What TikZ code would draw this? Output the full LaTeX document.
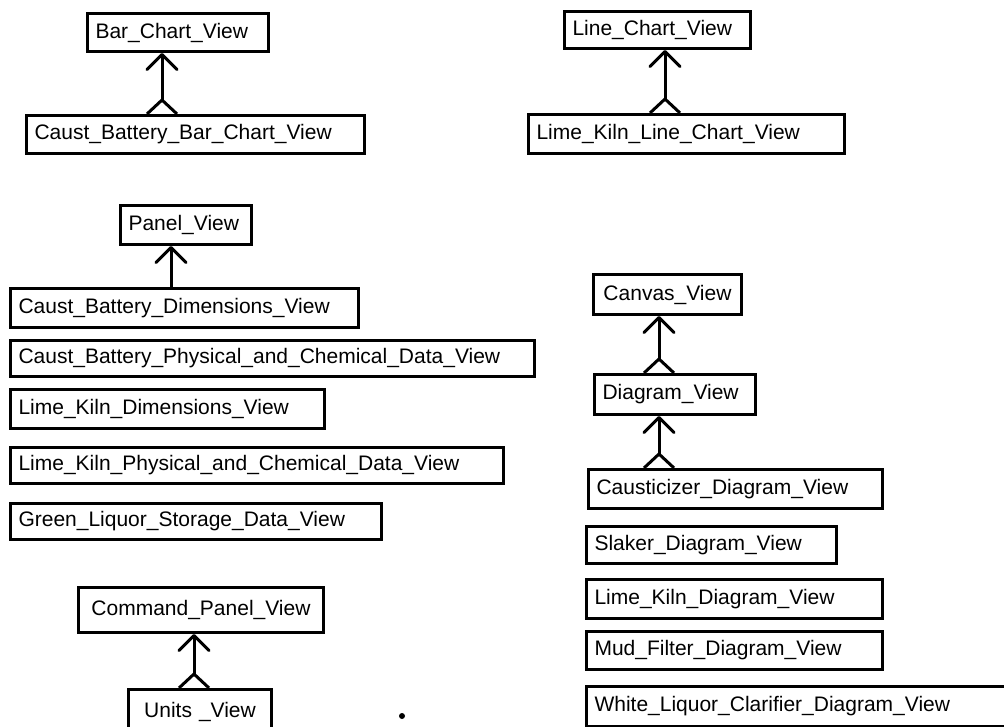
\documentclass[tikz,border=0pt]{standalone}
\usepackage{fontspec}
\setmainfont{Liberation Sans}
\usetikzlibrary{arrows.meta,calc}
\begin{document}
\begin{tikzpicture}[x=1pt,y=-1pt,
  view/.style={draw, line width=3pt, anchor=north west, inner xsep=8pt,
    inner ysep=0pt, align=left, font=\fontsize{21}{24}\selectfont},
  cview/.style={view, align=center},
  inherit/.style={line width=3pt, line cap=round,
    -{Straight Barb[length=15pt,width=30pt,round]}},
  tailtri/.style={line width=3pt, line join=miter},
]
\useasboundingbox (0,0) rectangle (1004,727);

% chart views
\node[view, text width=165pt, minimum height=38pt] (bar) at (86,12) {Bar\_Chart\_View};
\node[view, text width=322pt, minimum height=38pt] (cbbar) at (25,114) {Caust\_Battery\_Bar\_Chart\_View};
\node[view, text width=170pt, minimum height=37pt] (line) at (563,10) {Line\_Chart\_View};
\node[view, text width=300pt, minimum height=39pt] (lkline) at (527,113) {Lime\_Kiln\_Line\_Chart\_View};

% panel views
\node[view, text width=115pt, minimum height=39pt] (panel) at (119,204) {Panel\_View};
\node[view, text width=332pt, minimum height=39pt] (cbdim) at (9,287) {Caust\_Battery\_Dimensions\_View};
\node[view, text width=508pt, minimum height=36pt] (cbphys) at (9,339) {Caust\_Battery\_Physical\_and\_Chemical\_Data\_View};
\node[view, text width=298pt, minimum height=39pt] (lkdim) at (9,388) {Lime\_Kiln\_Dimensions\_View};
\node[view, text width=477pt, minimum height=36pt] (lkphys) at (9,446) {Lime\_Kiln\_Physical\_and\_Chemical\_Data\_View};
\node[view, text width=355pt, minimum height=36pt] (green) at (9,502) {Green\_Liquor\_Storage\_Data\_View};

% command panel
\node[cview, text width=229pt, minimum height=45pt] (cmd) at (77,586) {Command\_Panel\_View};
\node[cview, text width=127pt, minimum height=45pt] (units) at (127,688) {Units \_View};

% canvas and diagram views
\node[cview, text width=132pt, minimum height=40pt] (canvas) at (592,273) {Canvas\_View};
\node[view, text width=145pt, minimum height=40pt] (diagram) at (593,373) {Diagram\_View};
\node[view, text width=278pt, minimum height=39pt] (caustic) at (587,468) {Causticizer\_Diagram\_View};
\node[view, text width=234pt, minimum height=37pt] (slaker) at (585,525) {Slaker\_Diagram\_View};
\node[view, text width=280pt, minimum height=39pt] (lkdiag) at (585,578) {Lime\_Kiln\_Diagram\_View};
\node[view, text width=280pt, minimum height=38pt] (mud) at (585,630) {Mud\_Filter\_Diagram\_View};
\node[view, text width=440pt, minimum height=40pt] (white) at (585,685) {White\_Liquor\_Clarifier\_Diagram\_View};

% inheritance connectors with open triangle at the subclass end
\draw[tailtri] (cbbar.north -| 147,0) -- ++(15,-14) -- ++(15,14);
\draw[inherit] ($(cbbar.north -| 162,0)+(0,-14)$) -- (bar.south -| 162,0);

\draw[tailtri] (lkline.north -| 650,0) -- ++(15,-14) -- ++(15,14);
\draw[inherit] ($(lkline.north -| 665,0)+(0,-14)$) -- (line.south -| 665,0);

\draw[inherit] (cbdim.north -| 171,0) -- (panel.south -| 171,0);

\draw[tailtri] (units.north -| 179,0) -- ++(15,-14) -- ++(15,14);
\draw[inherit] ($(units.north -| 194,0)+(0,-14)$) -- (cmd.south -| 194,0);

\draw[tailtri] (diagram.north -| 644,0) -- ++(15,-14) -- ++(15,14);
\draw[inherit] ($(diagram.north -| 659,0)+(0,-14)$) -- (canvas.south -| 659,0);

\draw[tailtri] (caustic.north -| 644,0) -- ++(15,-14) -- ++(15,14);
\draw[inherit] ($(caustic.north -| 659,0)+(0,-14)$) -- (diagram.south -| 659,0);

% stray mark
\fill (402,716) circle (3pt);
\end{tikzpicture}
\end{document}
